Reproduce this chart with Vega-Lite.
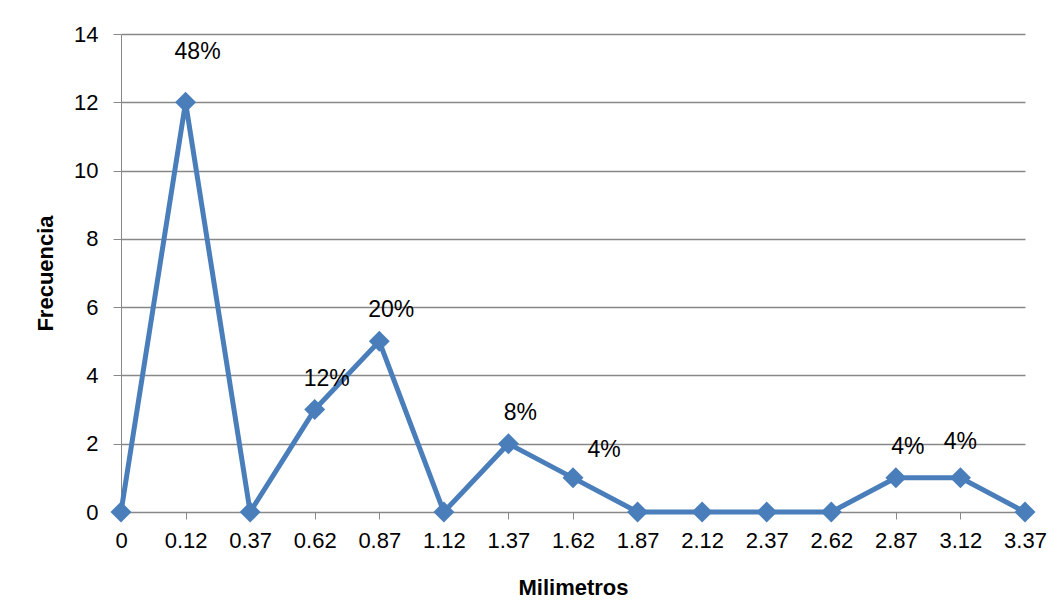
{
  "$schema": "https://vega.github.io/schema/vega-lite/v6.json",
  "autosize": {"type": "none"},
  "padding": {"left": 121, "top": 34, "right": 33, "bottom": 94},
  "width": 904,
  "height": 478,
  "background": "white",
  "config": {
    "view": {"stroke": null},
    "font": "Liberation Sans",
    "axis": {"labelFont": "Liberation Sans", "titleFont": "Liberation Sans"}
  },
  "data": {
    "values": [
      {"mm": "0", "freq": 0, "pct": ""},
      {"mm": "0.12", "freq": 12, "pct": "48%"},
      {"mm": "0.37", "freq": 0, "pct": ""},
      {"mm": "0.62", "freq": 3, "pct": "12%"},
      {"mm": "0.87", "freq": 5, "pct": "20%"},
      {"mm": "1.12", "freq": 0, "pct": ""},
      {"mm": "1.37", "freq": 2, "pct": "8%"},
      {"mm": "1.62", "freq": 1, "pct": "4%"},
      {"mm": "1.87", "freq": 0, "pct": ""},
      {"mm": "2.12", "freq": 0, "pct": ""},
      {"mm": "2.37", "freq": 0, "pct": ""},
      {"mm": "2.62", "freq": 0, "pct": ""},
      {"mm": "2.87", "freq": 1, "pct": "4%"},
      {"mm": "3.12", "freq": 1, "pct": "4%"},
      {"mm": "3.37", "freq": 0, "pct": ""}
    ]
  },
  "encoding": {
    "x": {
      "field": "mm", "type": "ordinal", "sort": null,
      "scale": {"type": "point", "padding": 0},
      "axis": {
        "title": "Milimetros", "titleFontSize": 22, "titleFontWeight": "bold", "titleColor": "black",
        "titleX": 452, "titleY": 75, "titleBaseline": "middle", "titleAlign": "center",
        "labelAngle": 0, "labelFontSize": 22, "labelColor": "black", "labelPadding": 11,
        "domainColor": "#888888", "tickColor": "#888888", "tickSize": 7, "grid": false
      }
    },
    "y": {
      "field": "freq", "type": "quantitative",
      "scale": {"domain": [0, 14], "nice": false},
      "axis": {
        "title": "Frecuencia", "titleFontSize": 22, "titleFontWeight": "bold", "titleColor": "black",
        "titleX": -76, "titleY": 239, "titleBaseline": "middle", "titleAlign": "center", "titleAngle": -90,
        "values": [0, 2, 4, 6, 8, 10, 12, 14],
        "labelFontSize": 22, "labelColor": "black", "labelPadding": 15,
        "domainColor": "#888888", "tickColor": "#888888", "tickSize": 8,
        "grid": true, "gridColor": "#888888", "gridWidth": 1.3
      }
    }
  },
  "layer": [
    {"mark": {"type": "line", "color": "#4A7EBB", "strokeWidth": 5}},
    {"mark": {"type": "point", "shape": "diamond", "filled": true, "opacity": 1, "color": "#4A7EBB", "size": 440}},
    {
      "transform": [{"filter": "datum.mm == '0.62' || datum.mm == '0.87' || datum.mm == '1.37' || datum.mm == '2.87'"}],
      "mark": {"type": "text", "fontSize": 23, "color": "black", "dx": 12, "dy": -31, "baseline": "middle"},
      "encoding": {"text": {"field": "pct"}}
    },
    {
      "transform": [{"filter": "datum.mm == '0.12'"}],
      "mark": {"type": "text", "fontSize": 23, "color": "black", "dx": 12, "dy": -50, "baseline": "middle"},
      "encoding": {"text": {"field": "pct"}}
    },
    {
      "transform": [{"filter": "datum.mm == '1.62'"}],
      "mark": {"type": "text", "fontSize": 23, "color": "black", "dx": 31, "dy": -28, "baseline": "middle"},
      "encoding": {"text": {"field": "pct"}}
    },
    {
      "transform": [{"filter": "datum.mm == '3.12'"}],
      "mark": {"type": "text", "fontSize": 23, "color": "black", "dx": 0, "dy": -36, "baseline": "middle"},
      "encoding": {"text": {"field": "pct"}}
    }
  ]
}
